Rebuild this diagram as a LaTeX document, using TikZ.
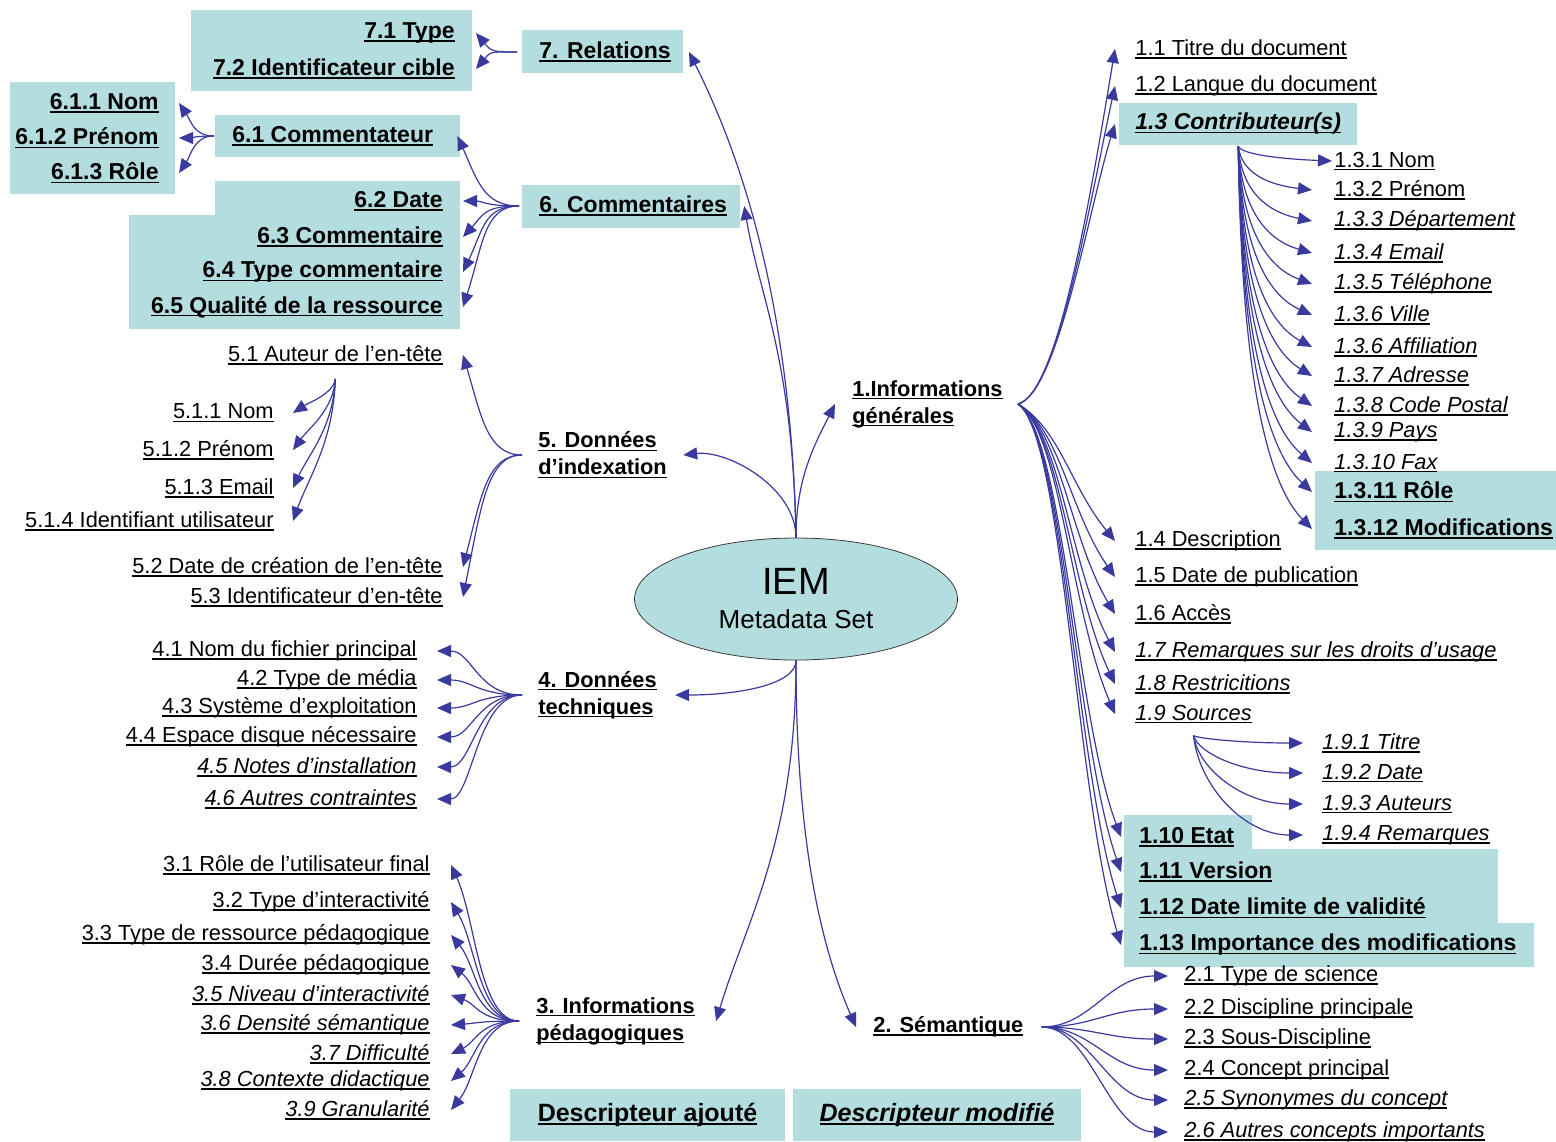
\documentclass[tikz,border=0pt]{standalone}
\usepackage{fontspec}
\setmainfont{Liberation Sans}
\usepackage{tikz}
\usetikzlibrary{arrows.meta,shapes.geometric}
\definecolor{boxteal}{HTML}{B4DDE0}
\definecolor{linkblue}{HTML}{3A3A9E}
\definecolor{rimgray}{HTML}{3C3C3C}
\newsavebox{\ulbox}
\newcommand{\uln}[1]{\sbox\ulbox{#1}\rlap{\rule[-1.6pt]{\wd\ulbox}{0.75pt}}\usebox\ulbox}

\tikzset{
  lbl/.style={inner sep=0pt, font=\fontsize{10.9}{13.5}\selectfont},
  lbli/.style={inner sep=0pt, font=\fontsize{10.9}{13.5}\selectfont\itshape},
  bld/.style={inner sep=0pt, font=\fontsize{11.5}{14}\selectfont\bfseries},
  bldi/.style={inner sep=0pt, font=\fontsize{11.5}{14}\selectfont\bfseries\itshape},
  branch/.style={inner sep=0pt, align=left, font=\fontsize{10.9}{13.5}\selectfont\bfseries},
  legend/.style={fill=boxteal, inner sep=0pt, minimum height=26pt, font=\fontsize{12.5}{15}\selectfont\bfseries},
  conn/.style={draw=linkblue, line width=0.6pt, -{Triangle[length=7pt,width=6pt]}},
  descbox/.style={fill=boxteal}
}

\begin{document}
\begin{tikzpicture}[x=0.5pt, y=-0.5pt]
  \useasboundingbox (0,0) rectangle (1556,1141);

  % boxes behind the added descriptors
  \fill[descbox] (191,10) rectangle (472,91);
  \fill[descbox] (522,30) rectangle (683,73);
  \fill[descbox] (10,82) rectangle (175,194);
  \fill[descbox] (215,115) rectangle (460,157);
  \fill[descbox] (215,181) -- (460,181) -- (460,329) -- (129,329) -- (129,215) -- (215,215) -- cycle;
  \fill[descbox] (522,185) rectangle (740,228);
  \fill[descbox] (1119,103) rectangle (1357,145);
  \fill[descbox] (1315,471) rectangle (1556,550);
  \fill[descbox] (1124,815) -- (1252,815) -- (1252,849) -- (1498,849) -- (1498,923) -- (1534,923) -- (1534,967) -- (1124,967) -- cycle;

  % centre
  \node[ellipse, draw=rimgray, line width=0.4pt, fill=boxteal, minimum width=161.5pt, minimum height=61pt, inner sep=0pt, align=center] (iem) at (796,599)
    {{\fontsize{19}{20}\selectfont IEM}\\[5pt]{\fontsize{13}{15}\selectfont Metadata Set}};

  % main branches
  \node[branch, anchor=west] (n1) at (852,404) {\uln{1.Informations}\\\uln{générales}};
  \node[branch, anchor=west] (n2) at (873,1027) {\uln{2. Sémantique}};
  \node[branch, anchor=west] (n3) at (536,1021) {\uln{3. Informations}\\\uln{pédagogiques}};
  \node[branch, anchor=west] (n4) at (538,695) {\uln{4. Données}\\\uln{techniques}};
  \node[branch, anchor=west] (n5) at (538,455) {\uln{5. Données}\\\uln{d’indexation}};
  \node[bld, anchor=west] (n6) at (539,206) {\uln{6. Commentaires}};
  \node[bld, anchor=west] (n7) at (539,52) {\uln{7. Relations}};

  \draw[conn] (iem.north) .. controls +(0,-60) and +(-20,40) .. ([xshift=-8.5pt]n1.west);
  \draw[conn] (iem.north) .. controls +(0,-50) and +(45,-5) .. ([xshift=8pt]n5.east);
  \draw[conn] (iem.north) .. controls +(-3,-180) and +(15,90) .. ([xshift=8.5pt]n6.east);
  \draw[conn] (iem.north) .. controls +(-5,-250) and +(45,90) .. ([xshift=9pt]n7.east);
  \draw[conn] (iem.south) .. controls +(0,25) and +(60,0) .. ([xshift=9pt]n4.east);
  \draw[conn] (iem.south) .. controls +(0,180) and +(30,-100) .. ([xshift=10.5pt]n3.east);
  \draw[conn] (iem.south) .. controls +(0,180) and +(-35,-80) .. ([xshift=-8.5pt]n2.west);

  % 7. Relations
  \node[bld, anchor=east] (c71) at (455,33) {\uln{7.1 Type}};
  \node[bld, anchor=east] (c72) at (455,69) {\uln{7.2 Identificateur cible}};
  \coordinate (o7) at ([xshift=-11pt]n7.west);
  \foreach \n/\by in {c71/18, c72/-18}
    \draw[conn] (o7) .. controls +(-25,0) and +(15,\by) .. ([xshift=10.5pt]\n.east);

  % 6. Commentaires
  \node[bld, anchor=west] (c61) at (232,136) {\uln{6.1 Commentateur}};
  \coordinate (o6) at ([xshift=-10pt]n6.west);
  \draw[conn] (o6) .. controls +(-35,0) and +(20,45) .. ([xshift=12pt]c61.east);
  \foreach \n/\y/\by/\txt in {c62/201/0/6.2 Date, c63/237/-22/6.3 Commentaire, c64/272/-42/6.4 Type commentaire, c65/307/-62/6.5 Qualité de la ressource}{
    \node[bld, anchor=east] (\n) at (443,\y) {\uln{\txt}};
    \draw[conn] (o6) .. controls +(-35,0) and +(20,\by) .. ([xshift=10pt]\n.east);
  }
  \coordinate (o61) at ([xshift=-9pt]c61.west);
  \foreach \n/\y/\by/\txt in {d1/103/18/6.1.1 Nom, d2/138/0/6.1.2 Prénom, d3/173/-18/6.1.3 Rôle}{
    \node[bld, anchor=east] (\n) at (159,\y) {\uln{\txt}};
    \draw[conn] (o61) .. controls +(-20,0) and +(12,\by) .. ([xshift=10pt]\n.east);
  }

  % 5. Donnees d'indexation
  \node[lbl, anchor=east] (e1) at (443,355) {\uln{5.1 Auteur de l’en-tête}};
  \node[lbl, anchor=east] (e2) at (443,567) {\uln{5.2 Date de création de l’en-tête}};
  \node[lbl, anchor=east] (e3) at (443,597) {\uln{5.3 Identificateur d’en-tête}};
  \coordinate (o5) at ([xshift=-8pt]n5.west);
  \foreach \n/\by in {e1/60, e2/-70, e3/-90}
    \draw[conn] (o5) .. controls +(-35,0) and +(18,\by) .. ([xshift=10pt]\n.east);
  \coordinate (o51) at ([yshift=-7pt]e1.south);
  \foreach \n/\y/\txt in {f1/413/5.1.1 Nom, f2/450/5.1.2 Prénom, f3/488/5.1.3 Email, f4/521/5.1.4 Identifiant utilisateur}{
    \node[lbl, anchor=east] (\n) at (274,\y) {\uln{\txt}};
    \pgfmathsetmacro\ca{0.45*(\y-380)}
    \pgfmathsetmacro\cb{-0.3*(\y-380)}
    \draw[conn] (o51) .. controls +(-2,\ca) and +(15,\cb) .. ([xshift=9.5pt]\n.east);
  }

  % 4. Donnees techniques
  \coordinate (o4) at ([xshift=-8pt]n4.west);
  \foreach \n/\s/\y/\txt in {g1/lbl/651/4.1 Nom du fichier principal, g2/lbl/680/4.2 Type de média, g3/lbl/708/4.3 Système d’exploitation, g4/lbl/737/4.4 Espace disque nécessaire, g5/lbli/767/4.5 Notes d’installation, g6/lbli/799/4.6 Autres contraintes}{
    \node[\s, anchor=east] (\n) at (417,\y) {\uln{\txt}};
    \draw[conn] (o4) .. controls +(-45,0) and +(35,0) .. ([xshift=10pt]\n.east);
  }

  % 3. Informations pedagogiques
  \coordinate (o3) at ([xshift=-8.5pt]n3.west);
  \foreach \n/\s/\y/\txt in {h1/lbl/865/3.1 Rôle de l’utilisateur final, h2/lbl/902/3.2 Type d’interactivité, h3/lbl/935/3.3 Type de ressource pédagogique, h4/lbl/965/3.4 Durée pédagogique, h5/lbli/995/3.5 Niveau d’interactivité, h6/lbli/1025/3.6 Densité sémantique, h7/lbli/1054/3.7 Difficulté, h8/lbli/1081/3.8 Contexte didactique, h9/lbli/1110/3.9 Granularité}{
    \node[\s, anchor=east] (\n) at (430,\y) {\uln{\txt}};
    \pgfmathsetmacro\cb{-0.35*(\y-1020)}
    \draw[conn] (o3) .. controls +(-40,0) and +(25,\cb) .. ([xshift=10.5pt]\n.east);
  }

  % 1. Informations generales
  \foreach \n/\s/\y/\txt in {t11/lbl/49/1.1 Titre du document, t12/lbl/86/1.2 Langue du document, t13/bldi/124/1.3 Contributeur(s), t14/lbl/541/1.4 Description, t15/lbl/577/1.5 Date de publication, t16/lbl/614/1.6 Accès, t17/lbli/652/1.7 Remarques sur les droits d’usage, t18/lbli/684/1.8 Restricitions, t19/lbli/714/1.9 Sources}
    \node[\s, anchor=west] (\n) at (1135,\y) {\uln{\txt}};
  \foreach \n/\y/\txt in {t110/837/1.10 Etat, t111/872/1.11 Version, t112/908/1.12 Date limite de validité, t113/945/1.13 Importance des modifications}
    \node[bld, anchor=west] (\n) at (1139,\y) {\uln{\txt}};
  \coordinate (o1) at ([xshift=7.5pt]n1.east);
  \foreach \n/\g/\ax/\ay/\bx/\by in {t11/10pt/40/-10/-25/150, t12/10pt/40/-10/-25/115, t13/10pt/40/-10/-25/80, t14/10pt/42/25/-45/-55, t15/10pt/42/25/-45/-65, t16/10pt/42/25/-45/-75, t17/10pt/42/25/-45/-85, t18/10pt/42/25/-45/-95, t19/10pt/42/25/-45/-105, t110/9pt/45/30/-45/-120, t111/9pt/45/30/-45/-130, t112/9pt/45/30/-45/-140, t113/9pt/45/30/-45/-150}
    \draw[conn] (o1) .. controls +(\ax,\ay) and +(\bx,\by) .. ([xshift=-\g]\n.west);

  \coordinate (o13) at ([yshift=-5.5pt]t13.south);
  \foreach \n/\s/\y/\g/\txt in {t13a/lbl/161/1pt/1.3.1 Nom, t13b/lbl/190/11pt/1.3.2 Prénom, t13c/lbli/221/11pt/1.3.3 Département, t13d/lbli/253/11pt/1.3.4 Email, t13e/lbli/284/11pt/1.3.5 Téléphone, t13f/lbli/315/11pt/1.3.6 Ville, t13g/lbli/347/11pt/1.3.6 Affiliation, t13h/lbli/376/11pt/1.3.7 Adresse, t13i/lbli/406/11pt/1.3.8 Code Postal, t13j/lbli/432/11pt/1.3.9 Pays, t13k/lbli/463/11pt/1.3.10 Fax, t13l/bld/492/11pt/1.3.11 Rôle, t13m/bld/529/11pt/1.3.12 Modifications}{
    \node[\s, anchor=west] (\n) at (1334,\y) {\uln{\txt}};
    \pgfmathsetmacro\ca{0.6*(\y-146)}
    \pgfmathsetmacro\cb{-0.12*(\y-146)}
    \draw[conn] (o13) .. controls +(3,\ca) and +(-45,\cb) .. ([xshift=-\g]\n.west);
  }

  \coordinate (o19) at ([yshift=-6pt]t19.south);
  \foreach \n/\y/\txt in {t19a/743/1.9.1 Titre, t19b/773/1.9.2 Date, t19c/804/1.9.3 Auteurs, t19d/835/1.9.4 Remarques}{
    \node[lbli, anchor=west] (\n) at (1322,\y) {\uln{\txt}};
    \pgfmathsetmacro\ca{0.5*(\y-737)}
    \draw[conn] (o19) .. controls +(5,\ca) and +(-60,0) .. ([xshift=-9.5pt]\n.west);
  }

  % 2. Semantique
  \coordinate (o2) at ([xshift=9pt]n2.east);
  \foreach \n/\s/\y/\txt in {t21/lbl/976/2.1 Type de science, t22/lbl/1009/2.2 Discipline principale, t23/lbl/1039/2.3 Sous-Discipline, t24/lbl/1070/2.4 Concept principal, t25/lbli/1100/2.5 Synonymes du concept, t26/lbli/1132/2.6 Autres concepts importants}{
    \node[\s, anchor=west] (\n) at (1184,\y) {\uln{\txt}};
    \draw[conn] (o2) .. controls +(50,0) and +(-60,0) .. ([xshift=-8pt]\n.west);
  }

  % legend
  \node[legend, minimum width=137.5pt] (added) at (647.5,1115) {\uln{Descripteur ajouté}};
  \node[legend, minimum width=144pt, font=\fontsize{12.5}{15}\selectfont\bfseries\itshape] (modified) at (937,1115) {\uln{Descripteur modifié}};
\end{tikzpicture}
\end{document}
